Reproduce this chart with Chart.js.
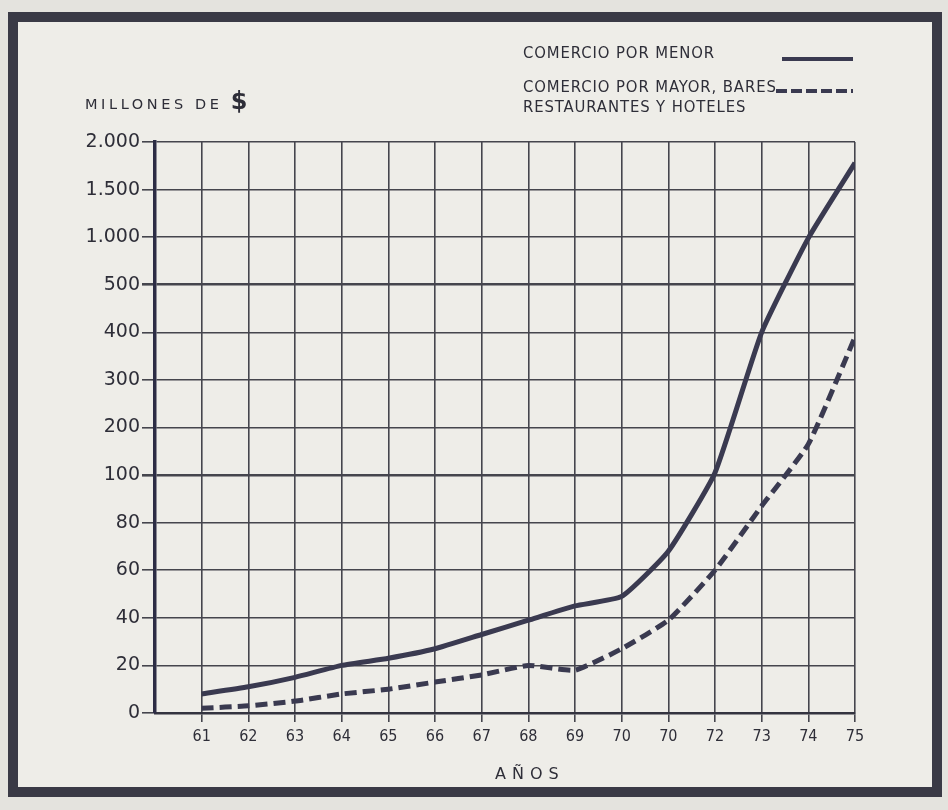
<!DOCTYPE html>
<html>
<head>
<meta charset="utf-8">
<script src="https://cdn.jsdelivr.net/npm/chart.js@4.4.1/dist/chart.umd.min.js"></script>
<style>
  body { margin: 0; width: 948px; height: 810px; overflow: hidden; position: relative;
         background: #e4e3de; font-family: "DejaVu Sans Condensed", "DejaVu Sans", sans-serif; color: #2e2e38; }
  #frame { position: absolute; left: 8px; top: 12px; width: 914px; height: 765px;
           border: 10px solid #3a3a46; background: #eeede8; }
  #chartBox { position: absolute; left: 0; top: 0; width: 948px; height: 810px; }
  .txt { position: absolute; white-space: nowrap; line-height: 1; }
  .legend { font-size: 16.5px; letter-spacing: 0.9px; }
  .sample { position: absolute; height: 4px; }
</style>
</head>
<body>
<div id="frame"></div>
<div id="chartBox"><canvas id="chart" width="948" height="810"></canvas></div>

<div class="txt" style="left:85px; top:89px; font-size:14.5px; letter-spacing:3.6px; font-family:'DejaVu Sans';">MILLONES DE <span style="font-size:24px; font-weight:bold; letter-spacing:0;">$</span></div>
<div class="txt legend" style="left:523px; top:45px;">COMERCIO POR MENOR</div>
<div class="sample" style="left:782px; top:57px; width:71px; background:#3a3a50;"></div>
<div class="txt legend" style="left:523px; top:79px;">COMERCIO POR MAYOR, BARES</div>
<div class="sample" style="left:776px; top:89px; width:77px; background:repeating-linear-gradient(90deg,#3a3a50 0 11px,transparent 11px 15px);"></div>
<div class="txt legend" style="left:523px; top:99px;">RESTAURANTES Y HOTELES</div>
<div class="txt" style="left:495px; top:766px; font-size:16px; letter-spacing:6px; font-family:'DejaVu Sans';">AÑOS</div>

<script>
// years on the x axis (the original prints "70" twice, the second one is 71)
const years = [61, 62, 63, 64, 65, 66, 67, 68, 69, 70, 71, 72, 73, 74, 75];
const yearLabels = ['61', '62', '63', '64', '65', '66', '67', '68', '69', '70', '70', '72', '73', '74', '75'];

// y axis is not linear: every tick is one equal step
const yTickValues = [0, 20, 40, 60, 80, 100, 200, 300, 400, 500, 1000, 1500, 2000];
const yTickLabels = ['0', '20', '40', '60', '80', '100', '200', '300', '400', '500', '1.000', '1.500', '2.000'];

// millones de $
const menor = [8, 11, 15, 20, 23, 27, 33, 39, 45, 49, 68, 105, 400, 990, 1780];
const mayor = [2, 3, 5, 8, 10, 13, 16, 20, 18, 27, 39, 60, 87, 165, 390];

const lineColor = '#3a3a50';
const gridColor = '#45454d';

// value -> position on the stepped axis
function toPos(v) {
  for (let i = 0; i < yTickValues.length - 1; i++) {
    const a = yTickValues[i], b = yTickValues[i + 1];
    if (v <= b) return i + (v - a) / (b - a);
  }
  return yTickValues.length - 1;
}

function toPoints(series) {
  return series.map((v, i) => ({ x: years[i], y: toPos(v) }));
}

const ctx = document.getElementById('chart').getContext('2d');
new Chart(ctx, {
  type: 'line',
  data: {
    datasets: [{
      label: 'COMERCIO POR MENOR',
      data: toPoints(menor),
      borderColor: lineColor,
      borderWidth: 5,
      pointRadius: 0,
      tension: 0.15,
      fill: false
    }, {
      label: 'COMERCIO POR MAYOR, BARES RESTAURANTES Y HOTELES',
      data: toPoints(mayor),
      borderColor: lineColor,
      borderWidth: 5,
      borderDash: [12, 6],
      pointRadius: 0,
      tension: 0.15,
      fill: false
    }]
  },
  options: {
    responsive: false,
    animation: false,
    layout: { padding: { left: 0, top: 142, right: 93, bottom: 57 } },
    plugins: { legend: { display: false }, tooltip: { enabled: false } },
    scales: {
      x: {
        type: 'linear',
        min: 60,
        max: 75,
        afterBuildTicks: (scale) => { scale.ticks = years.map(v => ({ value: v })); },
        afterFit: (scale) => { scale.height = 40; },
        ticks: {
          autoSkip: false,
          maxRotation: 0,
          padding: 5,
          color: '#2e2e38',
          font: { family: 'DejaVu Sans Condensed', size: 16 },
          callback: (val) => yearLabels[years.indexOf(val)]
        },
        grid: { color: gridColor, lineWidth: 1.6, tickLength: 9 },
        border: { color: '#33333f', width: 2.5 }
      },
      y: {
        min: 0,
        max: yTickValues.length - 1,
        afterFit: (scale) => { scale.width = 155; },
        ticks: {
          stepSize: 1,
          padding: 2,
          color: '#2e2e38',
          font: { family: 'DejaVu Sans', size: 19 },
          callback: (val) => yTickLabels[val]
        },
        grid: {
          color: gridColor,
          tickLength: 13,
          lineWidth: (c) => (c.tick && (c.tick.value === 5 || c.tick.value === 9)) ? 2.6 : 1.6
        },
        border: { color: '#2c2c44', width: 3.5 }
      }
    }
  }
});
</script>
</body>
</html>
